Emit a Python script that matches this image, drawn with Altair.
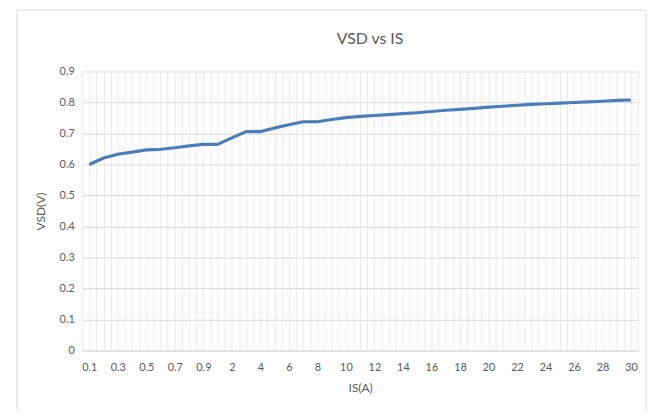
import altair as alt
import pandas as pd

# Category labels of the IS(A) axis
is_labels = ["0.1", "0.2", "0.3", "0.4", "0.5", "0.6", "0.7", "0.8", "0.9", "1",
             "2", "3", "4", "5", "6", "7", "8", "9", "10", "11", "12", "13", "14",
             "15", "16", "17", "18", "19", "20", "21", "22", "23", "24", "25", "26",
             "27", "28", "29", "30"]
# VSD(V) values
vsd_values = [0.600, 0.621, 0.633, 0.640, 0.647, 0.649, 0.654, 0.660, 0.665, 0.665,
              0.686, 0.706, 0.706, 0.718, 0.728, 0.738, 0.738, 0.745, 0.751, 0.755,
              0.758, 0.761, 0.764, 0.767, 0.771, 0.775, 0.778, 0.781, 0.785, 0.788,
              0.791, 0.794, 0.796, 0.798, 0.800, 0.802, 0.804, 0.807, 0.808]
y_ticks = [0, 0.1, 0.2, 0.3, 0.4, 0.5, 0.6, 0.7, 0.8, 0.9]

df = pd.DataFrame({"idx": list(range(len(is_labels))), "IS": is_labels, "VSD": vsd_values})

n = len(is_labels)
grid_vals = [i * 0.5 - 0.5 for i in range(2 * n + 1)]
lab_arr = "[" + ",".join("'" + s + "'" for s in is_labels) + "]"
label_expr = f"(datum.value >= 0 && datum.value % 2 == 0) ? {lab_arr}[datum.value] : ''"

FONT = "Lato"
GRAY = "#595959"

line = alt.Chart(df).mark_line(color="#4A7EBB", strokeWidth=3.2, strokeJoin="round").encode(
    x=alt.X("idx:Q",
            scale=alt.Scale(domain=[-0.5, n - 0.5], nice=False, zero=False),
            axis=alt.Axis(values=grid_vals, labelExpr=label_expr, grid=True,
                          gridColor="#ebebeb", gridWidth=1, ticks=False,
                          domain=True, domainColor="#d9d9d9", labelOverlap=False,
                          labelFlush=False, labelPadding=11, labelFontSize=11,
                          labelColor=GRAY, labelFont=FONT, title="IS(A)",
                          titleFont=FONT, titleFontSize=12, titleFontWeight="normal",
                          titleColor=GRAY, titlePadding=10)),
    y=alt.Y("VSD:Q",
            scale=alt.Scale(domain=[0, 0.9], nice=False),
            axis=alt.Axis(values=y_ticks, format="~g", grid=True, gridColor="#d9d9d9",
                          ticks=False, domain=False, labelPadding=8, labelFontSize=11,
                          labelColor=GRAY, labelFont=FONT, title="VSD(V)",
                          titleFont=FONT, titleFontSize=12, titleFontWeight="normal",
                          titleColor=GRAY, titlePadding=12)),
)

frame = alt.Chart(pd.DataFrame({"k": [0]})).mark_rect(
    fillOpacity=0, stroke="#d9d9d9", strokeWidth=1
).encode(x=alt.value(-66), x2=alt.value(570), y=alt.value(-62), y2=alt.value(420))

chart = alt.layer(frame, line).properties(
    width=562, height=282,
    title=alt.Title("VSD vs IS", font=FONT, fontSize=16, fontWeight="normal",
                    color=GRAY, anchor="middle", frame="group", offset=-38, dx=10),
    autosize=alt.AutoSizeParams(type="none"),
    padding={"left": 75, "top": 62, "right": 12, "bottom": 58},
).configure_view(stroke=None)

chart.save("out.html", embed_options={"renderer": "svg", "actions": False})
